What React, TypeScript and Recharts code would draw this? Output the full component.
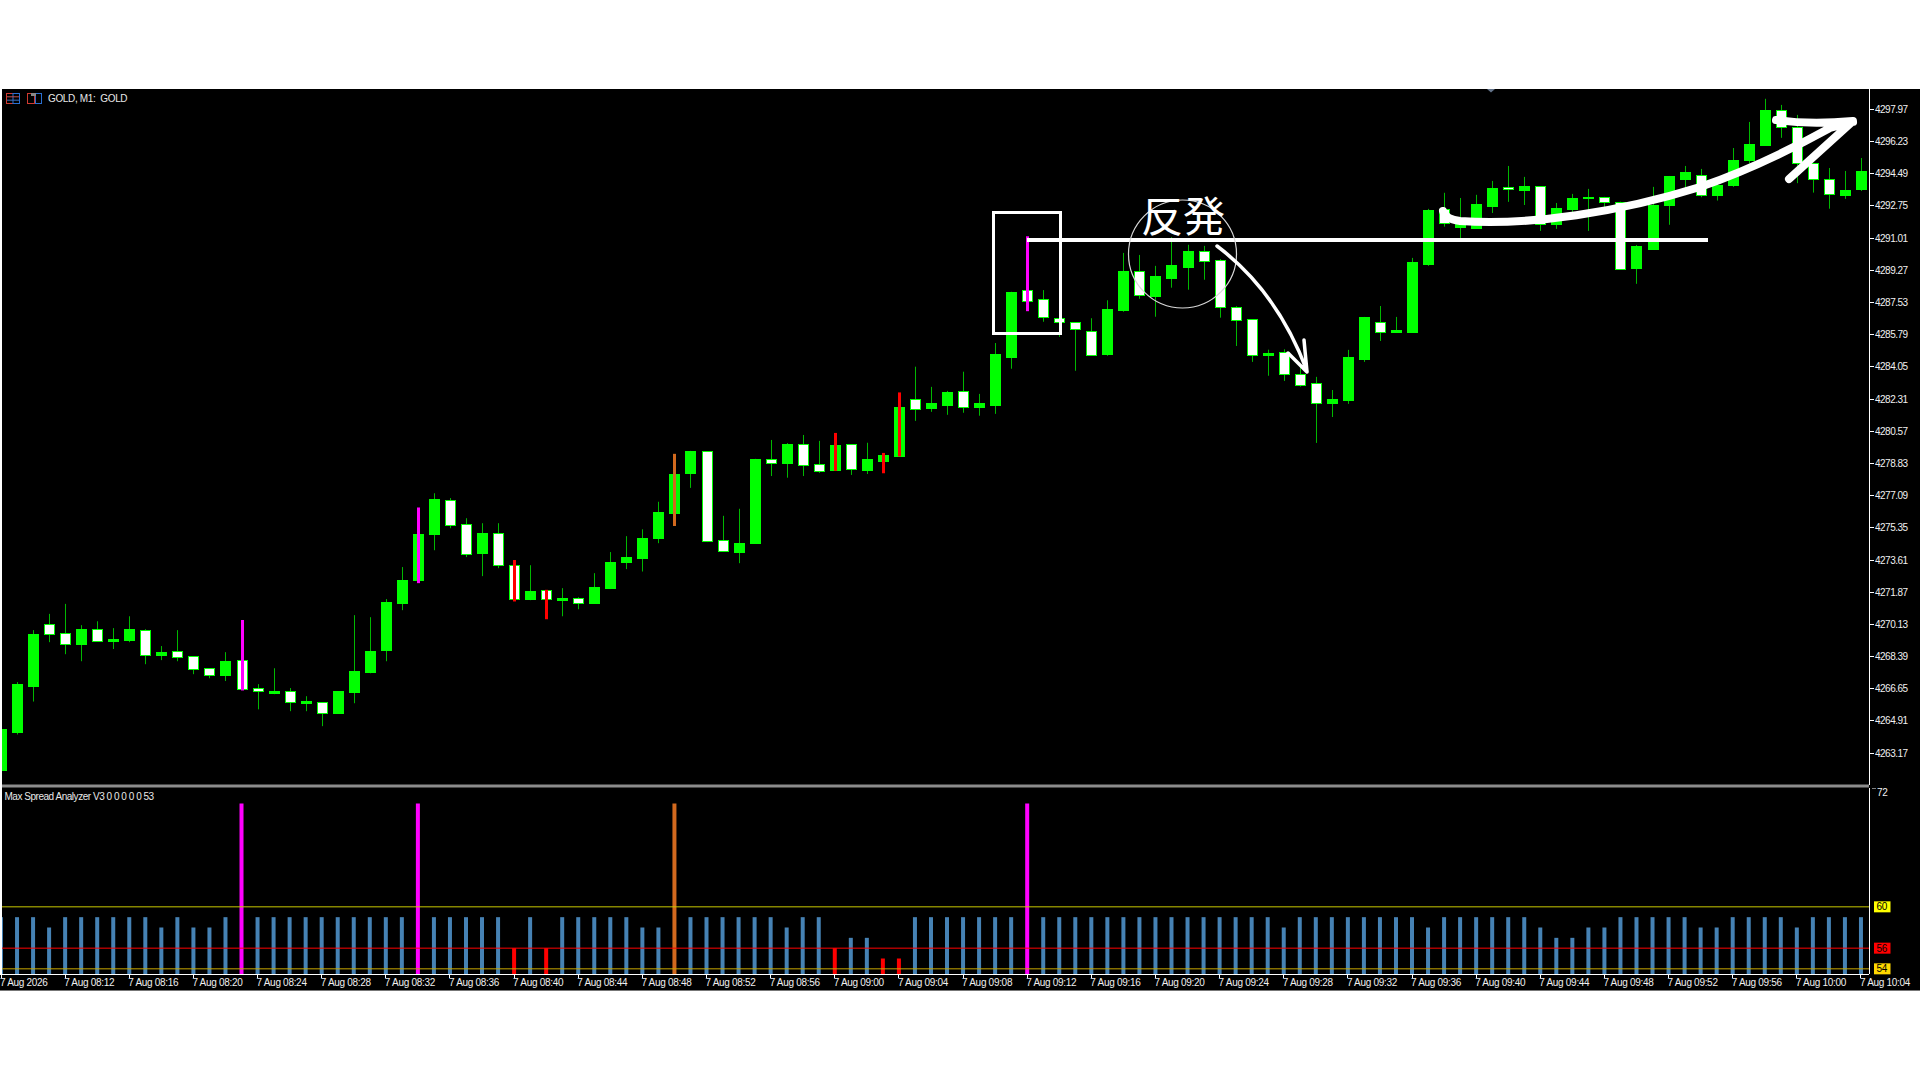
import { BarChart, Bar, Cell, XAxis, YAxis, ReferenceLine } from 'recharts';

// M1 candles, one per minute from 7 Aug 08:08
const opens = [
  4262.27, 4264.34, 4266.79, 4270.15, 4269.66, 4269.07, 4269.87, 4269.22, 4269.28, 4269.82,
  4268.47, 4268.69, 4268.42, 4267.76, 4267.38, 4268.2, 4266.69, 4266.4, 4266.52, 4265.87,
  4265.92, 4265.33, 4266.47, 4267.55, 4268.74, 4271.28, 4272.52, 4275.03, 4276.85, 4275.54,
  4273.99, 4275.06, 4273.33, 4271.5, 4271.99, 4271.44, 4271.55, 4271.28, 4272.09, 4273.5,
  4273.72, 4274.79, 4276.14, 4278.32, 4279.49, 4274.68, 4274.04, 4274.52, 4279.06, 4278.86,
  4279.87, 4278.79, 4278.48, 4279.87, 4278.48, 4278.97, 4279.24, 4282.3, 4281.84, 4282.0,
  4282.74, 4281.9, 4282.0, 4284.59, 4288.2, 4287.71, 4286.68, 4286.47, 4285.98, 4284.76,
  4287.13, 4289.22, 4287.89, 4288.87, 4289.46, 4290.3, 4289.82, 4287.28, 4286.63, 4284.7,
  4284.88, 4283.65, 4283.17, 4282.1, 4282.26, 4284.48, 4286.46, 4285.94, 4285.94, 4289.61,
  4292.57, 4291.63, 4291.58, 4292.75, 4293.78, 4293.62, 4293.82, 4291.78, 4292.59, 4293.18,
  4293.24, 4292.98, 4289.4, 4290.42, 4292.8, 4294.21, 4294.41, 4293.35, 4293.89, 4295.23,
  4296.05, 4297.92, 4297.03, 4295.05, 4294.19, 4293.35, 4293.64,
];
const highs = [
  4264.47, 4267.01, 4269.82, 4270.7, 4271.24, 4270.09, 4270.3, 4269.93, 4270.57, 4269.87,
  4268.96, 4269.82, 4268.42, 4267.76, 4268.63, 4270.37, 4266.9, 4267.76, 4266.69, 4266.25,
  4265.92, 4266.52, 4270.63, 4270.52, 4271.5, 4273.23, 4276.45, 4277.22, 4276.96, 4275.87,
  4275.6, 4275.6, 4273.61, 4273.33, 4272.0, 4272.09, 4271.6, 4272.9, 4274.04, 4274.9,
  4275.27, 4276.76, 4279.35, 4279.51, 4279.49, 4276.0, 4276.38, 4279.08, 4280.1, 4279.93,
  4280.37, 4280.05, 4280.48, 4279.87, 4279.95, 4279.4, 4282.67, 4284.06, 4282.97, 4282.75,
  4283.79, 4282.59, 4285.34, 4288.11, 4291.11, 4288.2, 4286.68, 4286.47, 4286.68, 4287.65,
  4290.21, 4290.1, 4289.51, 4291.06, 4290.65, 4290.59, 4289.88, 4287.33, 4286.63, 4284.98,
  4285.0, 4284.15, 4283.51, 4282.8, 4284.97, 4286.75, 4287.34, 4286.75, 4289.94, 4292.59,
  4293.46, 4293.18, 4293.35, 4294.1, 4294.91, 4294.32, 4293.82, 4292.91, 4293.4, 4293.67,
  4293.24, 4292.98, 4290.64, 4293.78, 4294.37, 4294.91, 4294.75, 4294.15, 4295.88, 4297.29,
  4298.54, 4298.21, 4297.67, 4295.05, 4294.8, 4294.64, 4295.34,
];
const lows = [
  4262.27, 4264.18, 4265.96, 4269.17, 4268.52, 4268.14, 4269.22, 4268.8, 4269.17, 4267.98,
  4268.2, 4268.14, 4267.44, 4267.22, 4267.07, 4266.56, 4265.54, 4266.36, 4265.44, 4265.44,
  4264.63, 4265.33, 4265.87, 4267.49, 4268.14, 4270.9, 4272.36, 4274.14, 4275.33, 4273.77,
  4272.74, 4273.17, 4271.37, 4271.44, 4270.41, 4270.57, 4270.95, 4271.28, 4272.04, 4273.12,
  4272.99, 4274.52, 4275.45, 4277.51, 4274.58, 4274.11, 4273.44, 4274.52, 4278.15, 4278.06,
  4278.15, 4278.32, 4278.43, 4278.21, 4278.26, 4278.3, 4279.21, 4281.13, 4281.62, 4281.46,
  4281.57, 4281.41, 4281.51, 4283.95, 4287.06, 4286.49, 4285.67, 4283.84, 4284.7, 4284.65,
  4287.03, 4287.73, 4286.76, 4288.33, 4288.22, 4288.76, 4286.71, 4285.18, 4284.32, 4283.57,
  4283.29, 4282.98, 4279.94, 4281.34, 4282.05, 4284.32, 4285.45, 4285.88, 4285.94, 4289.51,
  4291.63, 4291.0, 4291.58, 4292.37, 4292.97, 4292.8, 4291.4, 4291.51, 4292.35, 4291.4,
  4292.62, 4289.32, 4288.54, 4290.42, 4291.73, 4293.71, 4293.22, 4293.04, 4293.78, 4295.05,
  4296.05, 4296.43, 4293.98, 4293.47, 4292.6, 4293.13, 4293.56,
];
const closes = [
  4264.47, 4266.9, 4269.6, 4269.62, 4269.09, 4269.87, 4269.22, 4269.33, 4269.87, 4268.47,
  4268.63, 4268.36, 4267.71, 4267.38, 4268.14, 4266.63, 4266.52, 4266.52, 4265.92, 4265.98,
  4265.33, 4266.52, 4267.6, 4268.69, 4271.33, 4272.52, 4275.01, 4276.9, 4275.49, 4273.93,
  4275.06, 4273.33, 4271.5, 4271.93, 4271.5, 4271.55, 4271.28, 4272.15, 4273.5, 4273.77,
  4274.79, 4276.2, 4278.24, 4279.51, 4274.65, 4274.11, 4274.52, 4279.08, 4278.86, 4279.89,
  4278.75, 4278.43, 4279.84, 4278.53, 4279.08, 4279.3, 4281.9, 4281.79, 4282.1, 4282.7,
  4281.9, 4282.1, 4284.76, 4288.11, 4287.62, 4286.72, 4286.49, 4286.12, 4284.7, 4287.18,
  4289.24, 4287.96, 4288.98, 4289.57, 4290.32, 4289.75, 4287.28, 4286.6, 4284.7, 4284.81,
  4283.64, 4283.09, 4282.11, 4282.31, 4284.59, 4286.75, 4285.95, 4286.05, 4289.72, 4292.53,
  4291.85, 4292.08, 4292.86, 4293.73, 4293.65, 4293.84, 4291.78, 4292.64, 4293.18, 4293.24,
  4292.98, 4289.32, 4290.58, 4292.8, 4294.37, 4294.59, 4293.33, 4293.89, 4295.23, 4296.1,
  4297.94, 4297.03, 4295.05, 4294.19, 4293.38, 4293.62, 4294.64,
];

// Max Spread Analyzer histogram, same bars as the candles
const spreads = [
  59, 59, 59, 58, 59, 59, 59, 59, 59, 59,
  58, 59, 58, 58, 59, 70, 59, 59, 59, 59,
  59, 59, 59, 59, 59, 59, 70, 59, 59, 59,
  59, 59, 56, 59, 56, 59, 59, 59, 59, 59,
  58, 58, 70, 59, 59, 59, 59, 59, 59, 58,
  59, 59, 56, 57, 57, 55, 55, 59, 59, 59,
  59, 59, 59, 59, 70, 59, 59, 59, 59, 59,
  59, 59, 59, 59, 59, 59, 59, 59, 59, 59,
  58, 59, 59, 59, 59, 59, 59, 59, 59, 58,
  59, 59, 59, 59, 59, 59, 58, 57, 57, 58,
  58, 59, 59, 59, 59, 59, 58, 58, 59, 59,
  59, 59, 58, 59, 59, 59, 59,
];

const MAGENTA = '#ff00ff';
const RED = '#ff0000';
const ORANGE = '#d2691e';
const flagged: Record<number, string> = {
  15: MAGENTA, 26: MAGENTA, 32: RED, 34: RED, 42: ORANGE, 52: RED, 55: RED, 56: RED, 64: MAGENTA,
};

const timeLabels = [
  '7 Aug 2026', '7 Aug 08:12', '7 Aug 08:16', '7 Aug 08:20', '7 Aug 08:24', '7 Aug 08:28',
  '7 Aug 08:32', '7 Aug 08:36', '7 Aug 08:40', '7 Aug 08:44', '7 Aug 08:48', '7 Aug 08:52',
  '7 Aug 08:56', '7 Aug 09:00', '7 Aug 09:04', '7 Aug 09:08', '7 Aug 09:12', '7 Aug 09:16',
  '7 Aug 09:20', '7 Aug 09:24', '7 Aug 09:28', '7 Aug 09:32', '7 Aug 09:36', '7 Aug 09:40',
  '7 Aug 09:44', '7 Aug 09:48', '7 Aug 09:52', '7 Aug 09:56', '7 Aug 10:00', '7 Aug 10:04',
];
const timeTicks = timeLabels.map((_, i) => i * 4);
const priceTicks = [
  4297.97, 4296.23, 4294.49, 4292.75, 4291.01, 4289.27, 4287.53, 4285.79, 4284.05, 4282.31, 4280.57,
  4278.83, 4277.09, 4275.35, 4273.61, 4271.87, 4270.13, 4268.39, 4266.65, 4264.91, 4263.17,
];

const rows = opens.map((open, i) => ({
  idx: i,
  open,
  high: highs[i],
  low: lows[i],
  close: closes[i],
  range: [lows[i], highs[i]],
  spread: spreads[i],
}));

const FONT = '"Liberation Sans", Arial, sans-serif';
const GREEN = '#00ff00';
const WICK = '#00b800';
const PLOT_W = 1876;
const AXIS_W = 51;

const Candle = (props: any) => {
  const { x, y, width, height, payload } = props;
  const { open, high, low, close, idx } = payload;
  const perUnit = height / (high - low);
  const cx = Math.round(x + width / 2) + 0.5;
  const yOf = (p: number) => y + (high - p) * perUnit;
  const top = Math.round(yOf(Math.max(open, close))) + 0.5;
  const bottom = Math.round(yOf(Math.min(open, close))) + 0.5;
  const flag = flagged[idx];
  const up = close >= open;
  return (
    <g>
      {!flag && <line x1={cx} x2={cx} y1={y} y2={y + height} stroke={WICK} strokeWidth={1} />}
      <rect x={cx - 5} y={top} width={10} height={Math.max(bottom - top, 1)} fill={up ? GREEN : '#ffffff'} stroke={GREEN} strokeWidth={1} />
      {flag && <line x1={cx} x2={cx} y1={y} y2={y + height} stroke={flag} strokeWidth={3} />}
    </g>
  );
};

const PriceTick = ({ x, y, payload }: any) => (
  <text x={x} y={y + 3.5} fill="#f0f0f0" fontSize={10} fontFamily={FONT} letterSpacing={-0.5}>
    {payload.value.toFixed(2)}
  </text>
);

const levelBoxes: Record<number, string> = { 60: '#ffff00', 56: '#ff0000', 54: '#ffd700' };

const SpreadTick = ({ x, y, payload }: any) => {
  const v = payload.value;
  const fill = levelBoxes[v];
  if (!fill) {
    return (
      <g>
        <line x1={x - 6} x2={x - 2} y1={y} y2={y} stroke="#ffffff" />
        <text x={x - 1} y={y + 8} fill="#f0f0f0" fontSize={10} fontFamily={FONT} letterSpacing={-0.3}>{Math.round(v)}</text>
      </g>
    );
  }
  return (
    <g>
      <rect x={x - 4} y={y - 5.5} width={16.5} height={11} fill={fill} />
      <text x={x - 1.5} y={y + 3.5} fill="#000000" fontSize={10} fontFamily={FONT} letterSpacing={-0.3}>{v}</text>
    </g>
  );
};

const TimeTick = ({ x, y, payload }: any) => (
  <text x={x - 1} y={y + 8} fill="#f0f0f0" fontSize={10} fontFamily={FONT} letterSpacing={-0.3}>
    {timeLabels[payload.value / 4]}
  </text>
);

const margin = { top: 0, right: 0, bottom: 0, left: 0 };
const lineStyle = { stroke: '#ffffff', shapeRendering: 'crispEdges' };

export default function App() {
  return (
    <div style={{ position: 'absolute', left: 0, top: 0, width: 1920, height: 1080, background: '#ffffff', overflow: 'hidden' }}>
      <div style={{ position: 'absolute', left: 0, top: 89, width: 1920, height: 901, background: '#000000', overflow: 'hidden', borderBottom: '1px solid #777' }} />

      {/* price pane */}
      <div style={{ position: 'absolute', left: -7, top: 89 }}>
        <BarChart width={PLOT_W + AXIS_W} height={696} data={rows} margin={margin} barCategoryGap={0}>
          <XAxis dataKey="idx" hide />
          <YAxis
            orientation="right"
            width={AXIS_W}
            domain={[4261.45, 4299.07]}
            allowDataOverflow
            ticks={priceTicks}
            interval={0}
            axisLine={lineStyle}
            tickLine={lineStyle}
            tickSize={5}
            tickMargin={1}
            tick={PriceTick}
          />
          <Bar dataKey="range" shape={Candle} isAnimationActive={false} />
        </BarChart>
      </div>

      {/* spread pane */}
      <div style={{ position: 'absolute', left: -7, top: 788 }}>
        <BarChart width={PLOT_W + AXIS_W} height={202} data={rows} margin={margin} barSize={4}>
          <XAxis
            dataKey="idx"
            height={16}
            ticks={timeTicks}
            interval={0}
            axisLine={lineStyle}
            tickLine={lineStyle}
            tickSize={4}
            tickMargin={0}
            tick={TimeTick}
          />
          <YAxis
            orientation="right"
            width={AXIS_W}
            domain={[53.5, 71.5]}
            allowDataOverflow
            ticks={[71.5, 60, 56, 54]}
            interval={0}
            axisLine={lineStyle}
            tickLine={false}
            tickMargin={3}
            tick={SpreadTick}
          />
          <Bar dataKey="spread" isAnimationActive={false}>
            {rows.map((r) => (
              <Cell key={r.idx} fill={flagged[r.idx] ?? '#4682b4'} />
            ))}
          </Bar>
          <ReferenceLine y={60} stroke="#c8c800" />
          <ReferenceLine y={56} stroke="#ff0000" />
          <ReferenceLine y={54} stroke="#c8a800" />
        </BarChart>
      </div>

      {/* hand drawn notes and window furniture on top of the screenshot */}
      <svg width={1920} height={1080} style={{ position: 'absolute', left: 0, top: 0, pointerEvents: 'none' }}>
        <rect x={0} y={89} width={2} height={885} fill="#ffffff" />
        <rect x={2} y={784.5} width={1867} height={3} fill="#8c8c8c" />
        <polygon points="1487,89 1495,89 1491,92.5" fill="#64748b" />

        <rect x={6.5} y={93.5} width={13} height={10} fill="none" stroke="#d03a30" />
        <rect x={13} y={93.5} width={6.5} height={10} fill="none" stroke="#2a6fd0" />
        <line x1={7} x2={19} y1={96.8} y2={96.8} stroke="#c05050" />
        <line x1={7} x2={19} y1={100.2} y2={100.2} stroke="#3a70c0" />
        <rect x={27.5} y={93.5} width={7} height={10} fill="none" stroke="#d03a30" />
        <rect x={35.5} y={93.5} width={6} height={10} fill="none" stroke="#2a6fd0" />
        <rect x={31} y={93} width={5} height={3} fill="#888888" />

        <text x={48} y={102} fill="#e8e8e8" fontSize={10} fontFamily={FONT} letterSpacing={-0.35}>{'GOLD, M1:\u00a0\u00a0GOLD'}</text>
        <text x={4.5} y={800} fill="#e8e8e8" fontSize={10} fontFamily={FONT} letterSpacing={-0.47}>Max Spread Analyzer V3 0 0 0 0 0 53</text>

        <rect x={993.5} y={212.5} width={67} height={121} fill="none" stroke="#ffffff" strokeWidth={3} />
        <line x1={1027} x2={1708} y1={240} y2={240} stroke="#ffffff" strokeWidth={4} />
        <circle cx={1182.5} cy={254} r={54} fill="none" stroke="#d8d8d8" strokeWidth={1.2} />
        <text x={1183} y={232} textAnchor="middle" fill="#ffffff" fontSize={42} fontWeight={400} fontFamily='"Noto Sans CJK JP", sans-serif'>反発</text>
        <path d="M1217 246 C1262 280 1290 325 1307 371 M1304 340 L1307 372 L1288 353" fill="none" stroke="#ffffff" strokeWidth={3.5} strokeLinecap="round" strokeLinejoin="round" />
        <path
          d="M1443 211 Q1445 219 1460 221 C1530 226 1620 212 1700 187 C1750 170 1790 150 1830 128 L1853 122 M1776 120 Q1810 125 1853 121 L1789 179"
          fill="none"
          stroke="#ffffff"
          strokeWidth={8}
          strokeLinecap="round"
          strokeLinejoin="round"
        />
      </svg>
    </div>
  );
}
